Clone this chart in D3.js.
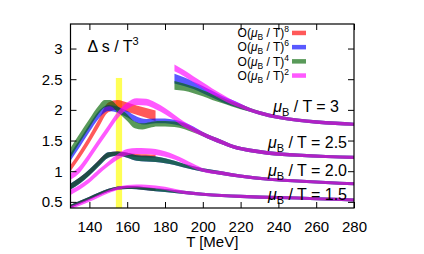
<!DOCTYPE html>
<html>
<head>
<meta charset="utf-8">
<script src="https://cdn.jsdelivr.net/npm/d3@7"></script>
<style>
  body { margin: 0; background: #fff; }
  svg { display: block; }
  text { font-family: "Liberation Sans", Arial, Helvetica, sans-serif; }
</style>
</head>
<body>
<div id="chart"></div>
<script>
// bands as [T, lower, upper]
// mu_B / T = 1.5
const mu15_o8 = [[130,0.41,0.45],[140,0.54,0.58],[150,0.67,0.71],[155,0.705,0.745],[160,0.715,0.755],[165,0.71,0.75],[170,0.695,0.735],[175,0.68,0.72]];
const mu15_o4 = [[130,0.405,0.455],[140,0.535,0.585],[150,0.665,0.715],[155,0.70,0.75],[160,0.71,0.76],[165,0.705,0.755],[170,0.69,0.74],[180,0.66,0.71]];
const mu15_o2 = [[130,0.38,0.43],[140,0.50,0.55],[150,0.64,0.69],[155,0.695,0.745],[160,0.725,0.775],[165,0.735,0.785],[170,0.73,0.78],[180,0.695,0.745]];
const mu15_tail = [[190,0.63,0.68],[200,0.60,0.65],[210,0.58,0.63],[220,0.565,0.615],[240,0.545,0.595],[260,0.525,0.575],[280,0.505,0.555]];

// mu_B / T = 2.0
const mu20_o8 = [[130,0.71,0.79],[140,0.94,1.02],[150,1.23,1.30],[155,1.26,1.32],[160,1.25,1.30],[165,1.23,1.28],[170,1.225,1.275],[175,1.22,1.27]];
const mu20_o4 = [[130,0.70,0.80],[135,0.80,0.90],[140,0.93,1.03],[145,1.08,1.18],[150,1.22,1.31],[155,1.25,1.32],[160,1.22,1.30],[165,1.17,1.26],[170,1.16,1.25],[175,1.15,1.24],[180,1.13,1.21],[185,1.10,1.17],[190,1.06,1.12]];
const mu20_o2 = [[130,0.61,0.70],[135,0.70,0.78],[140,0.81,0.89],[145,0.95,1.03],[150,1.08,1.16],[155,1.19,1.28],[160,1.26,1.36],[165,1.28,1.38],[170,1.28,1.375],[175,1.265,1.36],[180,1.235,1.325],[185,1.19,1.27],[190,1.12,1.20],[195,1.05,1.12]];
const mu20_tail = [[200,0.99,1.05],[210,0.94,1.0],[220,0.895,0.945],[235,0.845,0.895],[250,0.815,0.865],[265,0.79,0.84],[280,0.77,0.82]];

// mu_B / T = 2.5
const mu25_o8 = [[130,1.0,1.1],[135,1.22,1.33],[140,1.46,1.58],[145,1.72,1.85],[150,1.96,2.12],[155,2.0,2.16],[160,1.97,2.12],[165,1.92,2.07],[170,1.87,2.03],[175,1.82,1.99]];
const mu25_o6 = [[130,1.17,1.29],[135,1.40,1.52],[140,1.64,1.76],[145,1.86,1.98],[150,1.98,2.08],[155,1.95,2.05],[160,1.88,1.98],[165,1.79,1.89],[170,1.76,1.85],[175,1.78,1.86],[180,1.78,1.86],[185,1.76,1.84],[190,1.72,1.80],[195,1.65,1.73]];
const mu25_o4 = [[130,1.22,1.38],[135,1.47,1.62],[140,1.71,1.85],[145,1.94,2.07],[148,2.04,2.16],[151,2.06,2.16],[155,1.96,2.06],[160,1.82,1.93],[164,1.70,1.81],[168,1.68,1.78],[172,1.71,1.80],[176,1.73,1.82],[180,1.73,1.82],[185,1.72,1.81],[190,1.69,1.78],[195,1.63,1.71]];
const mu25_o2 = [[130,0.86,0.96],[135,0.98,1.09],[140,1.19,1.30],[145,1.42,1.53],[150,1.64,1.75],[155,1.86,1.97],[160,2.01,2.12],[165,2.08,2.19],[170,2.07,2.18],[175,2.01,2.12],[180,1.93,2.03],[185,1.83,1.92],[190,1.72,1.81],[195,1.64,1.72]];
const mu25_tail = [[200,1.57,1.64],[205,1.50,1.57],[210,1.44,1.51],[216,1.37,1.43],[225,1.31,1.37],[234,1.27,1.33],[250,1.235,1.29],[265,1.215,1.265],[280,1.20,1.25]];

// mu_B / T = 3 (only high T branch)
const mu30_o6 = [[185,2.43,2.59],[190,2.39,2.53],[195,2.34,2.46],[200,2.27,2.39],[205,2.20,2.31],[210,2.13,2.23],[215,2.07,2.17],[220,2.02,2.10]];
const mu30_o4 = [[185,2.33,2.47],[190,2.31,2.43],[195,2.27,2.38],[200,2.22,2.32],[205,2.16,2.26],[210,2.11,2.20],[215,2.06,2.14],[220,2.01,2.09]];
const mu30_o2 = [[185,2.63,2.74],[190,2.55,2.65],[195,2.45,2.55],[200,2.35,2.45],[205,2.25,2.35],[210,2.17,2.26],[215,2.09,2.17],[220,2.03,2.10]];
const mu30_tail = [[225,1.97,2.03],[230,1.92,1.98],[240,1.85,1.91],[250,1.805,1.86],[260,1.775,1.83],[270,1.755,1.81],[280,1.74,1.79]];

const orders = ["8", "6", "4", "2"];
const xTicks = [140, 160, 180, 200, 220, 240, 260, 280];
const yTicks = [0.5, 1, 1.5, 2, 2.5, 3];
const muLabels = ["3", "2.5", "2.0", "1.5"];
const tcBand = [154, 157.3, 2.52]; // T range and top of the yellow band

class EntropyChart {
  constructor(_parentElement) {
    this.parentElement = _parentElement;
    this.initVis();
  }

  initVis() {
    const vis = this;
    vis.margin = { top: 24, right: 70, bottom: 46, left: 70.5 };
    vis.width = 424 - vis.margin.left - vis.margin.right;
    vis.height = 254 - vis.margin.top - vis.margin.bottom;

    vis.svg = d3.select(vis.parentElement)
      .append("svg")
      .attr("width", 424)
      .attr("height", 254)
      .append("g")
      .attr("transform", "translate(" + vis.margin.left + "," + vis.margin.top + ")");

    vis.x = d3.scaleLinear().domain([130, 280]).range([0, vis.width]);
    vis.y = d3.scaleLinear().domain([0.4, 3.4]).range([vis.height, 0]);

    vis.color = d3.scaleOrdinal()
      .domain(orders)
      .range(["#ff0000", "#0000ff", "#006400", "#ff00ff"]);

    vis.svg.append("clipPath").attr("id", "plot-clip")
      .append("rect").attr("width", vis.width).attr("height", vis.height);

    vis.bands = vis.svg.append("g").attr("clip-path", "url(#plot-clip)");

    // yellow transition band
    vis.bands.append("rect")
      .attr("x", vis.x(tcBand[0]))
      .attr("width", vis.x(tcBand[1]) - vis.x(tcBand[0]))
      .attr("y", vis.y(tcBand[2]))
      .attr("height", vis.height - vis.y(tcBand[2]))
      .attr("fill", "#ffff55");

    vis.drawBands();
    vis.drawAxes();
    vis.addLabels();
    vis.addLegend();
  }

  drawBands() {
    const vis = this;
    const area = d3.area()
      .x((d) => vis.x(d[0]))
      .y0((d) => vis.y(d[1]))
      .y1((d) => vis.y(d[2]))
      .curve(d3.curveMonotoneX);

    // draw order: O8, O6, O4, O2
    const series = [
      { o: "8", data: mu15_o8 },
      { o: "8", data: mu20_o8 },
      { o: "8", data: mu25_o8 },
      { o: "6", data: mu15_o4.concat(mu15_tail) },
      { o: "6", data: mu20_o4.concat(mu20_tail) },
      { o: "6", data: mu25_o6.concat(mu25_tail) },
      { o: "6", data: mu30_o6.concat(mu30_tail) },
      { o: "4", data: mu15_o4.concat(mu15_tail) },
      { o: "4", data: mu20_o4.concat(mu20_tail) },
      { o: "4", data: mu25_o4.concat(mu25_tail) },
      { o: "4", data: mu30_o4.concat(mu30_tail) },
      { o: "2", data: mu15_o2.concat(mu15_tail) },
      { o: "2", data: mu20_o2.concat(mu20_tail) },
      { o: "2", data: mu25_o2.concat(mu25_tail) },
      { o: "2", data: mu30_o2.concat(mu30_tail) },
    ];

    vis.bands.selectAll("path.band")
      .data(series)
      .enter()
      .append("path")
      .attr("class", "band")
      .attr("d", (d) => area(d.data))
      .attr("fill", (d) => vis.color(d.o))
      .attr("fill-opacity", 0.65);
  }

  drawAxes() {
    const vis = this;
    const fmt = (d) => String(d);

    const styleAxis = (g) => {
      g.select(".domain").remove();
      g.selectAll("line").attr("stroke", "#000").attr("stroke-width", 1);
      g.selectAll("text").attr("font-size", 15).attr("font-family", "Liberation Sans, Arial, sans-serif").attr("fill", "#000");
    };

    vis.svg.append("g")
      .attr("transform", "translate(0," + vis.height + ")")
      .call(d3.axisBottom(vis.x).tickValues(xTicks).tickFormat(fmt).tickSize(-6).tickPadding(13))
      .call(styleAxis);
    vis.svg.append("g")
      .call(d3.axisTop(vis.x).tickValues(xTicks).tickFormat("").tickSize(-6))
      .call(styleAxis);
    vis.svg.append("g")
      .call(d3.axisLeft(vis.y).tickValues(yTicks).tickFormat(fmt).tickSize(-6).tickPadding(8))
      .call(styleAxis);
    vis.svg.append("g")
      .attr("transform", "translate(" + vis.width + ",0)")
      .call(d3.axisRight(vis.y).tickValues(yTicks).tickFormat("").tickSize(-6))
      .call(styleAxis);

    vis.svg.append("rect")
      .attr("width", vis.width)
      .attr("height", vis.height)
      .attr("fill", "none")
      .attr("stroke", "#000")
      .attr("stroke-width", 1.2);

    vis.svg.append("text")
      .attr("x", vis.width / 2)
      .attr("y", vis.height + 39)
      .attr("text-anchor", "middle")
      .attr("font-size", 15)
      .text("T [MeV]");
  }

  addLabels() {
    const vis = this;

    const title = vis.svg.append("text")
      .attr("x", 17)
      .attr("y", 28)
      .attr("font-size", 16);
    title.append("tspan").text("Δ s / T");
    title.append("tspan").attr("font-size", 11).attr("dy", -7).text("3");

    const pos = [[268.5, 87.5], [276.5, 123.5], [276.5, 152.3], [276.5, 176.3]];
    muLabels.forEach((m, i) => {
      const t = vis.svg.append("text")
        .attr("x", pos[i][0])
        .attr("y", pos[i][1])
        .attr("text-anchor", "end")
        .attr("font-size", 16);
      t.append("tspan").attr("font-style", "italic").text("μ");
      t.append("tspan").attr("font-size", 11).attr("dy", 4).text("B");
      t.append("tspan").attr("dy", -4).text(" / T = " + m);
    });
  }

  addLegend() {
    const vis = this;
    const legend = vis.svg.append("g").attr("class", "legends");

    const legendRow = legend.selectAll(".legendRow")
      .data(orders)
      .enter()
      .append("g")
      .attr("class", "legendRow")
      .attr("transform", (d, i) => `translate(0, ${8.7 + i * 14.2})`);

    legendRow.append("rect")
      .attr("x", 221.5)
      .attr("y", -2)
      .attr("width", 14)
      .attr("height", 4.5)
      .attr("fill", (d) => vis.color(d))
      .attr("fill-opacity", 0.65);

    const txt = legendRow.append("text")
      .attr("x", 218.5)
      .attr("y", 4.5)
      .attr("text-anchor", "end")
      .attr("font-size", 12);
    txt.append("tspan").text("O(");
    txt.append("tspan").attr("font-style", "italic").text("μ");
    txt.append("tspan").attr("font-size", 8.5).attr("dy", 3).text("B");
    txt.append("tspan").attr("dy", -3).text(" / T)");
    txt.append("tspan").attr("font-size", 8.5).attr("dy", -5).text((d) => d);
  }
}

new EntropyChart("#chart");
</script>
</body>
</html>
